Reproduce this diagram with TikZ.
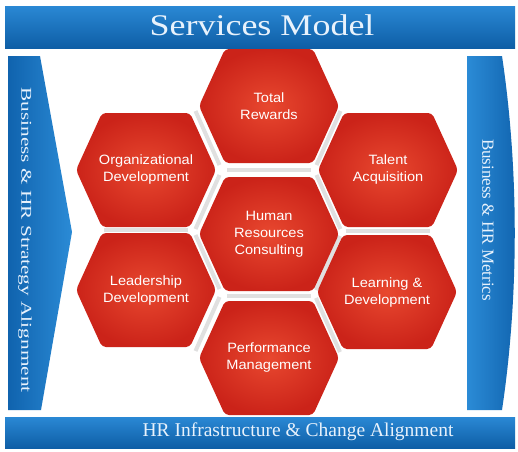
\documentclass[tikz,border=0pt]{standalone}
\usepackage{fontspec}
\setmainfont{Liberation Serif}
\newfontfamily\hexfont[FakeStretch=1.08]{Liberation Sans}
\usetikzlibrary{calc}
\definecolor{bluetop}{HTML}{2A88D4}
\definecolor{bluebot}{HTML}{0E5EA6}
\definecolor{bluelight}{HTML}{2B8BD6}
\definecolor{bluedark}{HTML}{1063AE}
\definecolor{redin}{HTML}{E8482F}
\definecolor{redout}{HTML}{CB2319}
\definecolor{seam}{HTML}{E0E0E0}
\definecolor{paletext}{HTML}{E8F2FC}
\tikzset{
  banner/.style={top color=bluetop, bottom color=bluebot},
  sidebar/.style={left color=bluedark, right color=bluelight},
  hexshade/.style={inner color=redin, outer color=redout, rounded corners=4pt},
  hextext/.style={text=white, align=center, font=\hexfont\fontsize{13.5}{17}\selectfont},
  seamline/.style={draw=seam, line width=4pt},
  bigtitle/.style={text=paletext, font=\fontsize{30}{30}\selectfont},
  bottomtitle/.style={text=paletext, font=\fontsize{19.5}{19.5}\selectfont},
  sidetext/.style={text=paletext, rotate=-90}
}
\newcommand\hexcell[3]{%
  \shade[hexshade] (#2) ++(-70,0) -- ++(26,-57) -- ++(88,0) -- ++(26,57) -- ++(-26,57) -- ++(-88,0) -- cycle;
  \node[hextext] (#1) at (#2) {#3};
}
\begin{document}
\begin{tikzpicture}[x=1pt,y=-1pt]
\useasboundingbox (0,0) rectangle (518,451);
\fill[white] (0,0) rectangle (518,451);

% top banner
\shade[banner] (5,6) rectangle (515,48);
\node[bigtitle] (title) at (262,25) {\scalebox{1.2}[1]{Services Model}};

% bottom banner
\shade[banner] (5,417) rectangle (515,448);
\node[bottomtitle] (bottom) at (298,432) {HR Infrastructure \& Change Alignment};

% left chevron
\shade[sidebar] (8,56) -- (40,56) -- (72,232) -- (41,410) -- (8,410) -- cycle;
\node[sidetext, font=\fontsize{15}{15}\selectfont] (lefttext) at (25,240) {\scalebox{1.42}[1]{Business \& HR Strategy Alignment}};

% right bulge
\shade[left color=bluelight, right color=bluedark] (467,56) -- (502,56) .. controls (519,170) and (519,296) .. (502,410) -- (467,410) -- cycle;
\node[sidetext, font=\fontsize{17}{17}\selectfont] (righttext) at (488,220) {Business \& HR Metrics};

% hex centres
\coordinate (cTR) at (269,106);
\coordinate (cOD) at (146,170);
\coordinate (cTA) at (388,170);
\coordinate (cHR) at (269,234);
\coordinate (cLD) at (146,290);
\coordinate (cLnD) at (387,292);
\coordinate (cPM) at (269,358);

% seams between hexes
\foreach \a/\b in {cTR/cHR, cHR/cPM, cOD/cLD, cTA/cLnD}
  \draw[seamline] ($(\a)!0.5!(\b)+(-42,0)$) -- ($(\a)!0.5!(\b)+(42,0)$);
\foreach \a/\b in {cOD/cTR, cLD/cHR, cHR/cTA, cPM/cLnD}
  \draw[seamline] ($(\a)!0.5!(\b)+(-12,-27)$) -- ($(\a)!0.5!(\b)+(12,27)$);
\foreach \a/\b in {cTR/cTA, cOD/cHR, cHR/cLnD, cLD/cPM}
  \draw[seamline] ($(\a)!0.5!(\b)+(12,-27)$) -- ($(\a)!0.5!(\b)+(-12,27)$);

% hexes
\hexcell{TR}{cTR}{Total\\Rewards}
\hexcell{OD}{cOD}{Organizational\\Development}
\hexcell{TA}{cTA}{Talent\\Acquisition}
\hexcell{HR}{cHR}{Human\\Resources\\Consulting}
\hexcell{LD}{cLD}{Leadership\\Development}
\hexcell{LnD}{cLnD}{Learning \&\\Development}
\hexcell{PM}{cPM}{Performance\\Management}
\end{tikzpicture}
\end{document}
